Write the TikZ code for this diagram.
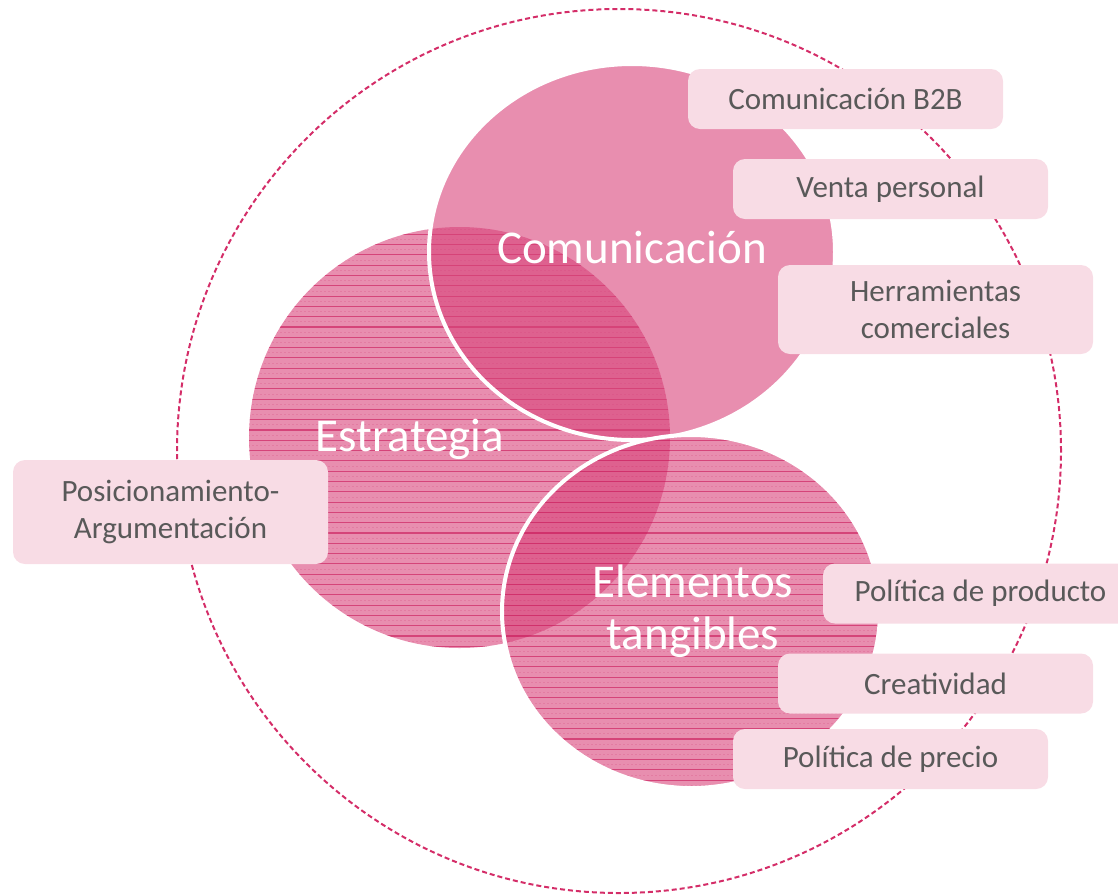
\documentclass[tikz,border=0pt]{standalone}
\usepackage{fontspec}
\setmainfont{Carlito}
\definecolor{dashc}{HTML}{D42D68}
\definecolor{vennc}{HTML}{D8437A}
\definecolor{stripec}{HTML}{CF2C68}
\definecolor{boxc}{HTML}{F8DCE5}
\definecolor{txtc}{HTML}{595959}
\tikzset{
  outer/.style={draw=dashc, line width=2pt, dash pattern=on 5pt off 3pt},
  venn/.style={fill=vennc, fill opacity=0.6},
  rim/.style={draw=white, line width=4pt},
  stripe/.style={draw=stripec, line width=1.1pt, opacity=0.75},
  substripe/.style={draw=stripec, line width=0.8pt, opacity=0.18, dash pattern=on 2pt off 2pt},
  item/.style={fill=boxc, rounded corners=12pt, minimum width=315pt, minimum height=60pt,
    text=txtc, font=\fontsize{31}{37}\selectfont, align=center, inner sep=0pt},
  biglabel/.style={text=white, font=\fontsize{47}{52}\selectfont, align=center}
}
\begin{document}
\begin{tikzpicture}[x=1pt,y=-1pt]
\useasboundingbox (0,0) rectangle (1118,895);
\clip (0,0) rectangle (1118,895);
% outer dashed circle
\draw[outer] (619,451) circle [radius=442pt];
% Estrategia
\fill[venn] (459.5,437.5) circle [radius=210.5pt];
\begin{scope}
  \clip (459.5,437.5) circle [radius=210.5pt];
  \foreach \k in {0,...,42} {
    \draw[stripe] (240,{224+10.3*\k}) -- (680,{224+10.3*\k});
    \draw[substripe] (240,{229.15+10.3*\k}) -- (680,{229.15+10.3*\k});
  }
\end{scope}
% Comunicacion
\fill[venn] (632,252) ellipse [x radius=203pt, y radius=188pt];
\draw[rim] (632,252) ellipse [x radius=203pt, y radius=188pt];
% Elementos tangibles
\fill[venn] (691,611.5) ellipse [x radius=189pt, y radius=176.5pt];
\begin{scope}
  \clip (691,611.5) ellipse [x radius=189pt, y radius=176.5pt];
  \foreach \k in {20,...,57} {
    \draw[stripe] (495,{224+10.3*\k}) -- (885,{224+10.3*\k});
    \draw[substripe] (495,{229.15+10.3*\k}) -- (885,{229.15+10.3*\k});
  }
\end{scope}
\draw[rim] (691,611.5) ellipse [x radius=189pt, y radius=176.5pt];
% big labels
\node[biglabel, anchor=base] (lblCom) at (632,263) {Comunicación};
\node[biglabel, anchor=base] (lblEst) at (410,451) {Estrategia};
\node[biglabel] (lblEle) at (693,611) {Elementos\\tangibles};
% item boxes
\node[item] (b2b) at (845.5,99) {Comunicación B2B};
\node[item] (venta) at (890.5,189) {Venta personal};
\node[item, minimum height=89pt] (herr) at (935.5,309.5) {Herramientas\\comerciales};
\node[item, minimum height=104pt] (posic) at (170.5,512) {Posicionamiento-\\Argumentación};
\node[item] (prod) at (980.5,593.5) {Política de producto};
\node[item] (creat) at (935.5,683.5) {Creatividad};
\node[item] (precio) at (890.5,759) {Política de precio};
\end{tikzpicture}
\end{document}
